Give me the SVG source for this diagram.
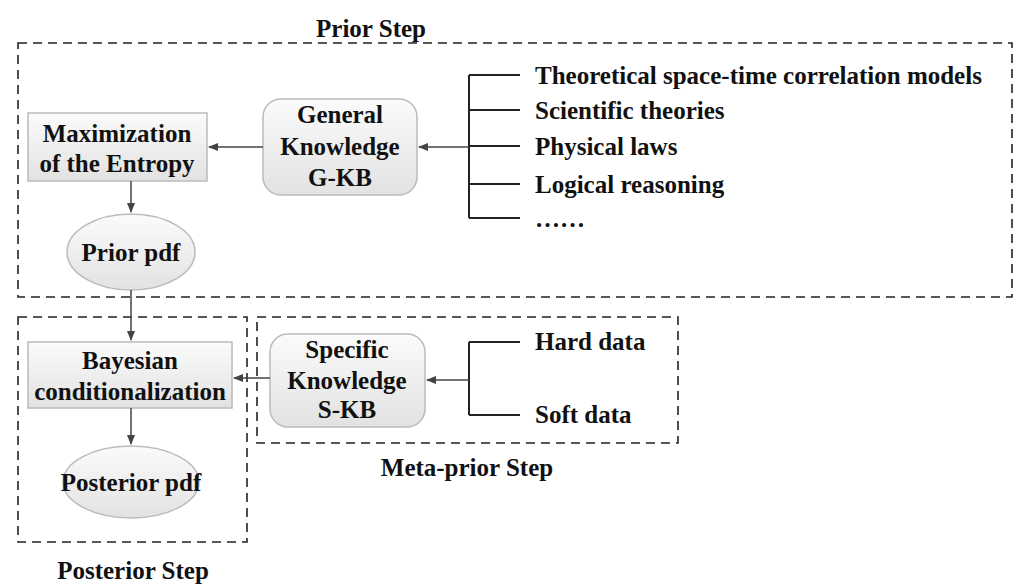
<svg xmlns="http://www.w3.org/2000/svg" width="1024" height="588" viewBox="0 0 1024 588">
<defs>
<linearGradient id="g" x1="0" y1="0" x2="0" y2="1"><stop offset="0" stop-color="#fbfbfb"/><stop offset="1" stop-color="#e2e2e2"/></linearGradient>
<marker id="a" markerWidth="10" markerHeight="10" refX="9" refY="5" orient="auto" markerUnits="userSpaceOnUse"><path d="M0,1 L10,5 L0,9 Z" fill="#444"/></marker>
</defs>
<style>
text{font-family:"Liberation Serif",serif;font-weight:bold;font-size:25px;fill:#111}
.n{fill:url(#g);stroke:#bbb;stroke-width:1.5}
.d{fill:none;stroke:#222;stroke-width:1.6;stroke-dasharray:9,6}
.c{fill:none;stroke:#444;stroke-width:1.5}
.b{fill:none;stroke:#222;stroke-width:2}
.m{text-anchor:middle}
</style>
<rect class="d" x="18" y="43" width="994" height="254"/>
<rect class="d" x="18" y="317" width="229" height="225"/>
<rect class="d" x="257" y="317" width="421" height="126"/>
<text class="m" x="371" y="37" font-size="23">Prior Step</text>
<text class="m" x="467" y="476" font-size="23">Meta-prior Step</text>
<text class="m" x="133" y="579" font-size="23">Posterior Step</text>
<g id="maxent"><rect class="n" x="28" y="113" width="179" height="68"/><text class="m" x="117" y="142">Maximization</text><text class="m" x="117" y="172">of the Entropy</text></g>
<g id="gkb"><rect class="n" x="263" y="99" width="154" height="96" rx="18"/><text class="m" x="340" y="123">General</text><text class="m" x="340" y="155">Knowledge</text><text class="m" x="340" y="186">G-KB</text></g>
<g id="prior"><ellipse class="n" cx="131" cy="252" rx="64" ry="38"/><text class="m" x="131" y="261">Prior pdf</text></g>
<g id="bayes"><rect class="n" x="28" y="342" width="204" height="66"/><text class="m" x="130" y="369">Bayesian</text><text class="m" x="130" y="400">conditionalization</text></g>
<g id="post"><ellipse class="n" cx="131" cy="482" rx="68" ry="36"/><text class="m" x="131" y="491" font-size="24">Posterior pdf</text></g>
<g id="skb"><rect class="n" x="270" y="334" width="155" height="93" rx="18"/><text class="m" x="347" y="358">Specific</text><text class="m" x="347" y="389">Knowledge</text><text class="m" x="347" y="418">S-KB</text></g>
<g id="glist"><path class="b" d="M469,75 V218 M469,75 H520 M469,110 H520 M469,146 H520 M469,184 H520 M469,218 H520"/>
<text x="535" y="84">Theoretical space-time correlation models</text><text x="535" y="119">Scientific theories</text><text x="535" y="155">Physical laws</text><text x="535" y="193">Logical reasoning</text><text x="535" y="227">……</text></g>
<g id="slist"><path class="b" d="M469,342 V415 M469,342 H520 M469,415 H520"/><text x="535" y="350">Hard data</text><text x="535" y="423">Soft data</text></g>
<g id="connectors">
<line class="c" x1="469" y1="147" x2="419" y2="147" marker-end="url(#a)"/>
<line class="c" x1="263" y1="147" x2="209" y2="147" marker-end="url(#a)"/>
<line class="c" x1="131" y1="181" x2="131" y2="212" marker-end="url(#a)"/>
<line class="c" x1="131" y1="290" x2="131" y2="340" marker-end="url(#a)"/>
<line class="c" x1="469" y1="380" x2="427" y2="380" marker-end="url(#a)"/>
<line class="c" x1="270" y1="378" x2="234" y2="378" marker-end="url(#a)"/>
<line class="c" x1="131" y1="408" x2="131" y2="444" marker-end="url(#a)"/>
</g>
</svg>
